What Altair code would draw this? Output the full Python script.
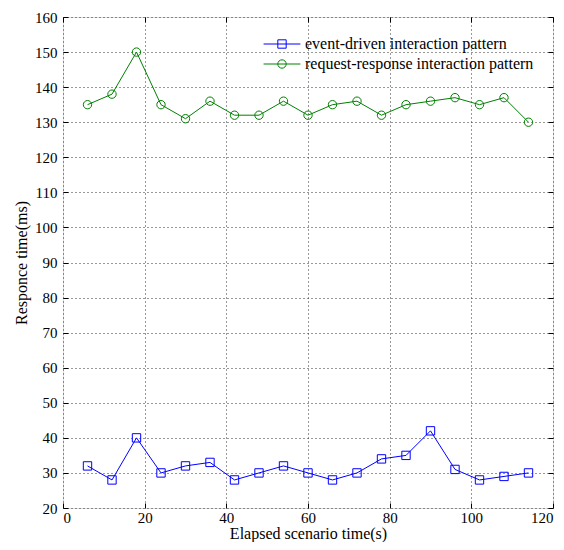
import altair as alt
import pandas as pd

x_vals = [6, 12, 18, 24, 30, 36, 42, 48, 54, 60, 66, 72, 78, 84, 90, 96, 102, 108, 114]
event_driven = [32, 28, 40, 30, 32, 33, 28, 30, 32, 30, 28, 30, 34, 35, 42, 31, 28, 29, 30]
request_response = [135, 138, 150, 135, 131, 136, 132, 132, 136, 132, 135, 136, 132, 135, 136, 137, 135, 137, 130]
series_names = ["event-driven interaction pattern", "request-response interaction pattern"]
marker_keys = ["m1", "m2"]
series_colors = ["#0000FF", "#008000"]
series_shapes = ["square", "circle"]

rows = []
for name, key, vals in zip(series_names, marker_keys, [event_driven, request_response]):
    for xv, yv in zip(x_vals, vals):
        rows.append({"t": xv, "r": yv, "series": name, "series_m": key})
df = pd.DataFrame(rows)

FONT = "Liberation Serif"
LEG_X, LEG_Y = 211, 19
LEG_FS = 16

def marker_legend():
    return alt.Legend(
        orient="none", legendX=LEG_X, legendY=LEG_Y, title=None, padding=0,
        symbolSize=70, symbolStrokeWidth=1, labelFont=FONT, labelFontSize=LEG_FS,
        labelOffset=15, rowPadding=4, labelOpacity=0, labelExpr="' '",
    )

x_scale = alt.Scale(domain=[0, 120], nice=False, zero=False)
y_scale = alt.Scale(domain=[20, 160], nice=False, zero=False)

base = alt.Chart(df)

lines = base.mark_line(strokeWidth=1).encode(
    x=alt.X("t:Q", scale=x_scale, title="Elapsed scenario time(s)",
            axis=alt.Axis(orient="bottom", values=list(range(0, 121, 20)), grid=True,
                          gridDash=[1, 3], gridColor="#333333", domain=False,
                          tickSize=5, offset=-5, tickColor="#000000",
                          labelFont=FONT, labelFontSize=15, labelColor="#000000",
                          labelPadding=2, titleFont=FONT, titleFontSize=16,
                          titleFontWeight="normal", titleColor="#000000", titlePadding=0)),
    y=alt.Y("r:Q", scale=y_scale, title="Responce time(ms)",
            axis=alt.Axis(orient="left", values=list(range(20, 161, 10)), grid=True,
                          gridDash=[1, 3], gridColor="#333333", domain=False,
                          tickSize=5, offset=-5, tickColor="#000000",
                          labelFont=FONT, labelFontSize=15, labelColor="#000000",
                          labelPadding=6, titleFont=FONT, titleFontSize=16,
                          titleFontWeight="normal", titleColor="#000000", titlePadding=5)),
    color=alt.Color("series:N", scale=alt.Scale(domain=series_names, range=series_colors),
                    legend=alt.Legend(
                        orient="none", legendX=LEG_X, legendY=LEG_Y, title=None, padding=0,
                        symbolSize=70, symbolStrokeWidth=1, labelFont=FONT, labelFontSize=LEG_FS,
                        labelColor="#000000", labelOffset=15, rowPadding=4, labelLimit=0,
                        symbolType="M-4.4,0L4.4,0", symbolFillColor="transparent")),
)

points = base.mark_point(filled=False, size=70, strokeWidth=1, opacity=1).encode(
    x=alt.X("t:Q", scale=x_scale,
            axis=alt.Axis(orient="top", values=list(range(0, 121, 20)), grid=False,
                          domain=False, labels=False, title=None,
                          tickSize=5, offset=-5, tickColor="#000000")),
    y=alt.Y("r:Q", scale=y_scale,
            axis=alt.Axis(orient="right", values=list(range(20, 161, 10)), grid=False,
                          domain=False, labels=False, title=None,
                          tickSize=5, offset=-5, tickColor="#000000")),
    stroke=alt.Stroke("series_m:N", scale=alt.Scale(domain=marker_keys, range=series_colors),
                      legend=marker_legend()),
    shape=alt.Shape("series_m:N", scale=alt.Scale(domain=marker_keys, range=series_shapes),
                    legend=marker_legend()),
)

chart = alt.layer(lines, points).resolve_axis(x="independent", y="independent").properties(
    width=490, height=491,
    autosize=alt.AutoSizeParams(type="none"),
    padding={"left": 55, "top": 9, "right": 3, "bottom": 34},
).configure_view(stroke="#000000", strokeWidth=1).configure(background="#ffffff")

chart.save("out.html", embed_options={"renderer": "svg", "actions": False})
